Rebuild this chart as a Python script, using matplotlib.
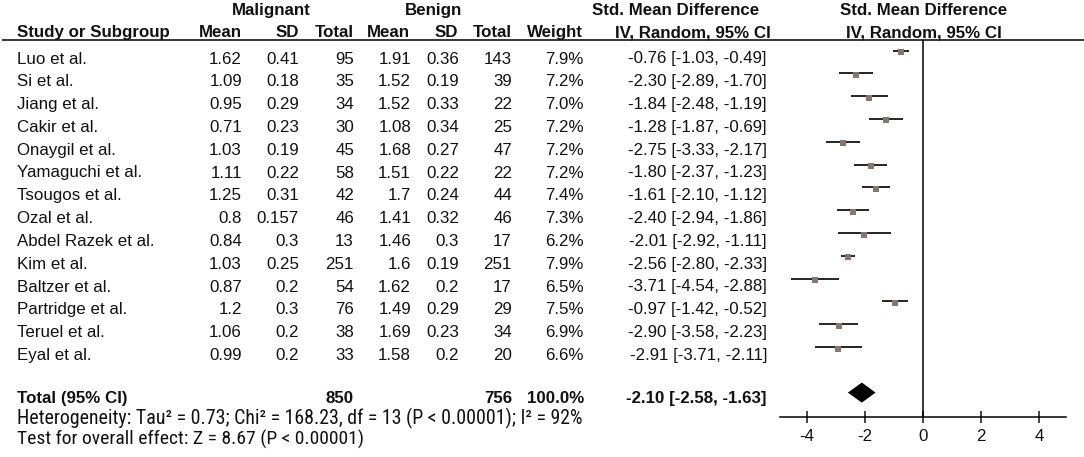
import matplotlib
matplotlib.use("Agg")
import matplotlib.pyplot as plt
import matplotlib.transforms as mtransforms
from matplotlib import font_manager
from matplotlib.font_manager import FontProperties
from matplotlib.patches import Polygon

# ---------------- data ----------------
studies = ["Luo et al.", "Si et al.", "Jiang et al.", "Cakir et al.", "Onaygil et al.",
           "Yamaguchi et al.", "Tsougos et al.", "Ozal et al.", "Abdel Razek et al.",
           "Kim et al.", "Baltzer et al.", "Partridge et al.", "Teruel et al.", "Eyal et al."]
mal_mean = [1.62, 1.09, 0.95, 0.71, 1.03, 1.11, 1.25, 0.8, 0.84, 1.03, 0.87, 1.2, 1.06, 0.99]
mal_sd = [0.41, 0.18, 0.29, 0.23, 0.19, 0.22, 0.31, 0.157, 0.3, 0.25, 0.2, 0.3, 0.2, 0.2]
mal_n = [95, 35, 34, 30, 45, 58, 42, 46, 13, 251, 54, 76, 38, 33]
ben_mean = [1.91, 1.52, 1.52, 1.08, 1.68, 1.51, 1.7, 1.41, 1.46, 1.6, 1.62, 1.49, 1.69, 1.58]
ben_sd = [0.36, 0.19, 0.33, 0.34, 0.27, 0.22, 0.24, 0.32, 0.3, 0.19, 0.2, 0.29, 0.23, 0.2]
ben_n = [143, 39, 22, 25, 47, 22, 44, 46, 17, 251, 17, 29, 34, 20]
weight = [7.9, 7.2, 7.0, 7.2, 7.2, 7.2, 7.4, 7.3, 6.2, 7.9, 6.5, 7.5, 6.9, 6.6]
smd = [-0.76, -2.30, -1.84, -1.28, -2.75, -1.80, -1.61, -2.40, -2.01, -2.56, -3.71, -0.97, -2.90, -2.91]
ci_lo = [-1.03, -2.89, -2.48, -1.87, -3.33, -2.37, -2.10, -2.94, -2.92, -2.80, -4.54, -1.42, -3.58, -3.71]
ci_hi = [-0.49, -1.70, -1.19, -0.69, -2.17, -1.23, -1.12, -1.86, -1.11, -2.33, -2.88, -0.52, -2.23, -2.11]
total_mal_n = 850
total_ben_n = 756
total_weight = 100.0
total_smd, total_lo, total_hi = -2.10, -2.58, -1.63
heterogeneity = "Heterogeneity: Tau\u00b2 = 0.73; Chi\u00b2 = 168.23, df = 13 (P < 0.00001); I\u00b2 = 92%"
overall = "Test for overall effect: Z = 8.67 (P < 0.00001)"
xticks = [-4, -2, 0, 2, 4]

# ---------------- style ----------------
plt.rcParams['font.family'] = ['Liberation Sans', 'DejaVu Sans']
FS = 12.2
TXT = "#111111"

# pick a condensed face for the footer lines if one is installed
narrow_fp = None
cands = []
for f in font_manager.fontManager.ttflist:
    nm = f.name.lower()
    st = str(f.stretch).lower()
    if f.style != 'normal' or f.weight not in (400, 'normal', 'regular'):
        continue
    if 'narrow' in nm or 'condensed' in nm or st in ('condensed', 'semi-condensed', '500', '300', '400') and st != '500':
        pri = 0 if 'liberation' in nm else (1 if 'roboto' in nm else 2)
        cands.append((pri, f.fname))
if cands:
    cands.sort()
    narrow_fp = FontProperties(fname=cands[0][1])

W, H = 1084, 457
fig = plt.figure(figsize=(W / 100, H / 100), dpi=100)

# text layer in pixel coordinates
tax = fig.add_axes([0, 0, 1, 1])
tax.set_xlim(0, W)
tax.set_ylim(H, 0)
tax.axis('off')

def t(x, y, s, ha='right', bold=False, **kw):
    return tax.text(x, y, s, ha=ha, va='baseline', fontsize=FS, color=TXT,
                    fontweight='bold' if bold else 'normal', **kw)

# headers
t(271, 15, "Malignant", ha='center', bold=True)
t(433, 15, "Benign", ha='center', bold=True)
t(676, 15, "Std. Mean Difference", ha='center', bold=True)
t(924, 15, "Std. Mean Difference", ha='center', bold=True)
t(17, 37, "Study or Subgroup", ha='left', bold=True)
t(242, 37, "Mean", bold=True)
t(299, 37, "SD", bold=True)
t(354, 37, "Total", bold=True)
t(410, 37, "Mean", bold=True)
t(458, 37, "SD", bold=True)
t(512, 37, "Total", bold=True)
t(583, 37, "Weight", bold=True)
t(693, 37, "IV, Random, 95% CI", ha='center', bold=True)
t(924, 37, "IV, Random, 95% CI", ha='center', bold=True)
tax.plot([2, W], [39.5, 39.5], color='black', lw=1.1, solid_capstyle='butt')

# study rows
ROW0, DY = 63.5, 22.8
for i, name in enumerate(studies):
    yb = ROW0 + i * DY
    t(17, yb, name, ha='left')
    t(242, yb, f"{mal_mean[i]}")
    t(299, yb, f"{mal_sd[i]}")
    t(354, yb, f"{mal_n[i]}")
    t(411, yb, f"{ben_mean[i]}")
    t(459, yb, f"{ben_sd[i]}")
    t(512, yb, f"{ben_n[i]}")
    t(584, yb, f"{weight[i]:.1f}%")
    t(767, yb, f"{smd[i]:.2f} [{ci_lo[i]:.2f}, {ci_hi[i]:.2f}]")

# totals
YT = 403
t(17, YT, "Total (95% CI)", ha='left', bold=True)
t(354, YT, f"{total_mal_n}", bold=True)
t(512, YT, f"{total_ben_n}", bold=True)
t(584, YT, f"{total_weight:.1f}%", bold=True)
t(767, YT, f"{total_smd:.2f} [{total_lo:.2f}, {total_hi:.2f}]", bold=True)

foot_kw = dict(ha='left', va='baseline', color=TXT)
if narrow_fp is not None:
    fp1 = narrow_fp.copy(); fp1.set_size(FS)
    fp2 = narrow_fp.copy(); fp2.set_size(FS)
    het = tax.text(17, 424, heterogeneity, fontproperties=fp1, **foot_kw)
    ov = tax.text(17, 445, overall, fontproperties=fp2, **foot_kw)
else:
    het = tax.text(17, 424, heterogeneity, fontsize=FS, **foot_kw)
    ov = tax.text(17, 445, overall, fontsize=FS, **foot_kw)
fig.canvas.draw()
r = fig.canvas.get_renderer()
for obj, target in ((het, 564), (ov, 345)):
    w = obj.get_window_extent(r).width
    obj.set_fontsize(obj.get_fontsize() * target / w)

# ---------------- forest plot ----------------
y_top_px, y_bot_px = 39.5, 417
x_left_px, x_right_px = 780, 1066
ax = fig.add_axes([x_left_px / W, (H - y_bot_px) / H,
                   (x_right_px - x_left_px) / W, (y_bot_px - y_top_px) / H])
ax.patch.set_alpha(0)
CI0 = 50.6
ax.set_ylim((y_bot_px - CI0) / DY, (y_top_px - CI0) / DY)
ax.set_xlim(-4.91, 4.91)
rows = list(range(len(studies)))
ax.hlines(rows, ci_lo, ci_hi, color='black', lw=1.2)
mk_tr = mtransforms.offset_copy(ax.transData, fig=fig, y=-1.5, units='dots')
ax.plot(smd, rows, 's', color='#857770', markersize=4.0, markeredgewidth=0,
        transform=mk_tr)
tr = len(studies) + 1
ax.add_patch(Polygon([(total_lo, tr), (total_smd, tr - 0.44), (total_hi, tr),
                      (total_smd, tr + 0.44)], closed=True, color='black', lw=0))
ax.axvline(0, color='black', lw=1.1)
for s in ('left', 'right', 'top'):
    ax.spines[s].set_visible(False)
ax.spines['bottom'].set_linewidth(1.1)
ax.set_yticks([])
ax.set_xticks(xticks)
ax.set_xticklabels([str(v) for v in xticks])
ax.tick_params(axis='x', direction='inout', length=8.6, width=1.1,
               labelsize=FS, pad=4, colors=TXT)

fig.savefig("out.png", dpi=100)
